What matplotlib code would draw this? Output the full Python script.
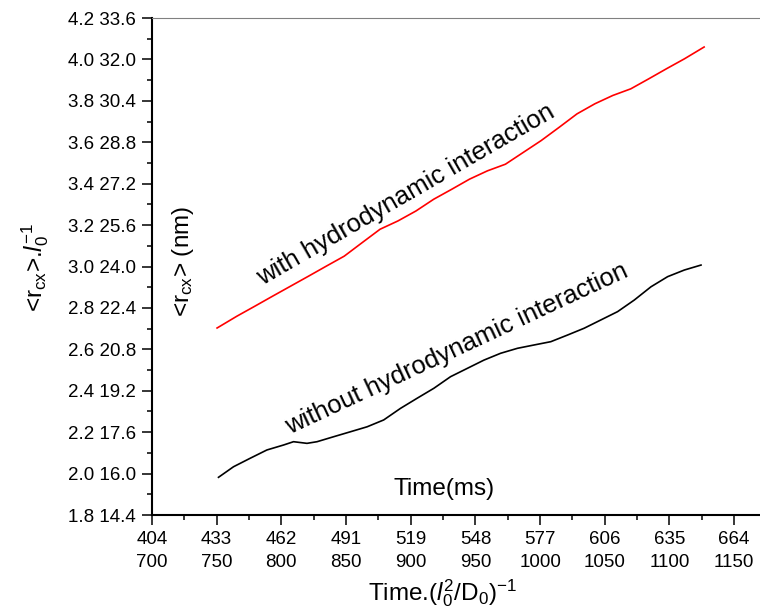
import matplotlib
matplotlib.use("Agg")
import matplotlib.pyplot as plt
from matplotlib.ticker import MultipleLocator, FixedLocator

plt.rcParams["font.family"] = ["Liberation Sans", "DejaVu Sans"]
plt.rcParams["mathtext.fontset"] = "custom"
plt.rcParams["mathtext.rm"] = "Liberation Sans"
plt.rcParams["mathtext.it"] = "Liberation Sans:italic"

# time in units of (l0^2/D0)^-1
t_with = [750.3, 765.6, 779.4, 793.3, 807.1, 820.9, 834.8, 848.6, 862.4, 876.3,
          890.1, 904.0, 917.8, 931.7, 945.5, 959.3, 973.2, 987.0, 1000.8, 1014.7,
          1028.5, 1042.4, 1056.2, 1070.1, 1083.9, 1097.7, 1111.6, 1126.8]
r_with = [2.703, 2.760, 2.808, 2.857, 2.905, 2.953, 3.002, 3.050, 3.115, 3.180,
          3.220, 3.268, 3.325, 3.373, 3.422, 3.462, 3.494, 3.551, 3.608, 3.672,
          3.737, 3.786, 3.826, 3.858, 3.906, 3.955, 4.003, 4.060]

t_without = [751.4, 763.0, 775.9, 788.8, 801.7, 809.4, 819.8, 827.6, 840.4, 853.4,
             866.3, 879.1, 892.1, 905.0, 917.9, 930.8, 943.7, 956.6, 969.5, 982.5,
             995.3, 1008.3, 1021.2, 1034.1, 1047.0, 1059.9, 1072.8, 1085.7, 1098.6,
             1111.5, 1124.4]
r_without = [1.982, 2.033, 2.074, 2.114, 2.138, 2.154, 2.146, 2.154, 2.178, 2.202,
             2.226, 2.259, 2.315, 2.364, 2.412, 2.468, 2.508, 2.548, 2.581, 2.605,
             2.621, 2.637, 2.669, 2.702, 2.742, 2.782, 2.838, 2.902, 2.951, 2.983,
             3.007]

x_ticks = [700, 750, 800, 850, 900, 950, 1000, 1050, 1100, 1150]
x_ms = [404, 433, 462, 491, 519, 548, 577, 606, 635, 664]
y_ticks = [1.8, 2.0, 2.2, 2.4, 2.6, 2.8, 3.0, 3.2, 3.4, 3.6, 3.8, 4.0, 4.2]
nm_per_unit = 8.0

fig = plt.figure(figsize=(7.6, 6.15), dpi=100)
ax = fig.add_axes([0.2, 0.1626, 0.8, 0.8081])

ax.plot(t_with, r_with, color="red", lw=1.2)
ax.plot(t_without, r_without, color="black", lw=1.2)

ax.set_xlim(700, 1170)
ax.set_ylim(1.8, 4.2)

ax.xaxis.set_major_locator(FixedLocator(x_ticks))
ax.set_xticklabels([f"{m}\n{t}" for m, t in zip(x_ms, x_ticks)], linespacing=1.45)
ax.xaxis.set_minor_locator(MultipleLocator(25))
ax.yaxis.set_major_locator(FixedLocator(y_ticks))
ax.set_yticklabels([f"{v:.1f} {v * nm_per_unit:.1f}" for v in y_ticks])
ax.yaxis.set_minor_locator(MultipleLocator(0.1))

ax.tick_params(which="major", direction="out", length=7.5, width=1.1,
               labelsize=13.5, pad=4)
ax.tick_params(which="minor", direction="out", length=3.8, width=1.1)

for s in ("left", "bottom"):
    ax.spines[s].set_linewidth(1.5)
ax.spines["right"].set_visible(False)
ax.spines["top"].set_linewidth(0.8)
ax.spines["top"].set_color("#808080")

ax.text(896, 3.345, "with hydrodynamic interaction", rotation=30,
        ha="center", va="center", fontsize=18.5)
ax.text(936, 2.60, "without hydrodynamic interaction", rotation=25,
        ha="center", va="center", fontsize=18.5)

fig.text(444 / 760, 1 - 489 / 615, "Time(ms)", ha="center", va="center", fontsize=17.5)
fig.text(443 / 760, 1 - 593 / 615,
         r"Time.($\mathit{l}_{\mathit{0}}^{\mathregular{2}}$/D$_{\mathregular{0}}$)$^{\mathregular{-1}}$",
         ha="center", va="center", fontsize=17.5)
fig.text(35 / 760, 1 - 268 / 615,
         r"<r$_{\mathregular{cx}}$>.$\mathit{l}_{\mathit{0}}^{\mathregular{-1}}$",
         ha="center", va="center", rotation=90, fontsize=17.5)
fig.text(183 / 760, 1 - 261 / 615,
         r"<r$_{\mathregular{cx}}$> (nm)",
         ha="center", va="center", rotation=90, fontsize=17.5)

fig.savefig("out.png", dpi=100)
